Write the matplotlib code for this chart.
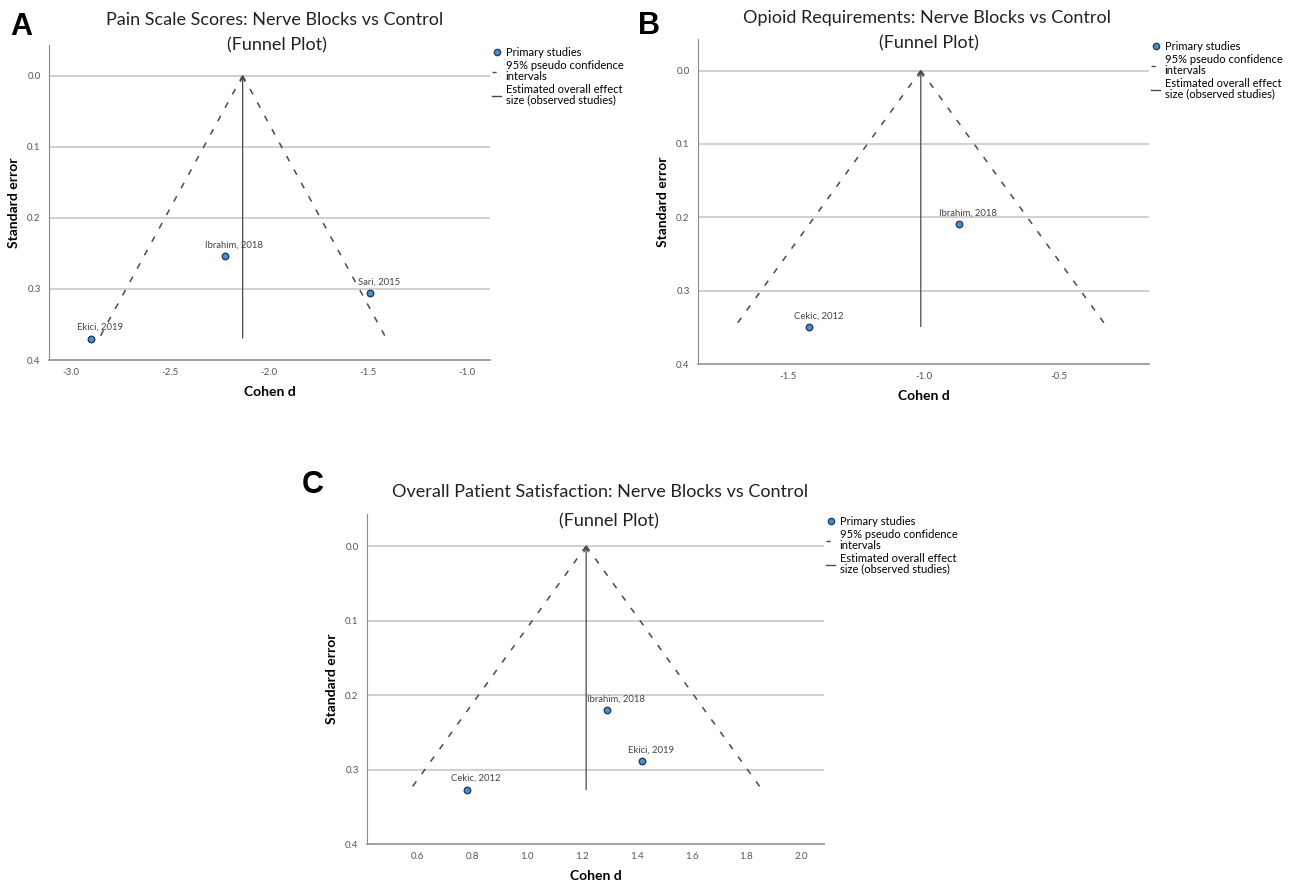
import matplotlib
matplotlib.use("Agg")
import matplotlib.pyplot as plt
from matplotlib.lines import Line2D

plt.rcParams["font.family"] = ["Lato", "DejaVu Sans"]

# --- data ---
pain_studies = ["Ekici, 2019", "Ibrahim, 2018", "Sari, 2015"]
pain_d = [-2.90, -2.22, -1.49]
pain_se = [0.370, 0.254, 0.306]
pain_pooled = -2.133
pain_se_max = 0.369

opioid_studies = ["Cekic, 2012", "Ibrahim, 2018"]
opioid_d = [-1.42, -0.868]
opioid_se = [0.350, 0.2095]
opioid_pooled = -1.01
opioid_se_max = 0.349

satisf_studies = ["Cekic, 2012", "Ibrahim, 2018", "Ekici, 2019"]
satisf_d = [0.78, 1.291, 1.421]
satisf_se = [0.327, 0.220, 0.289]
satisf_pooled = 1.216
satisf_se_max = 0.327

se_ticks = [0.0, 0.1, 0.2, 0.3, 0.4]
pain_xticks = [-3.0, -2.5, -2.0, -1.5, -1.0]
opioid_xticks = [-1.5, -1.0, -0.5]
satisf_xticks = [0.6, 0.8, 1.0, 1.2, 1.4, 1.6, 1.8, 2.0]

W, H = 1292, 883
POINT_FACE = "#4f8fc9"
POINT_EDGE = "#1f3f66"
LINE_COL = "#4a4a4a"
GRID_COL = "#cdcdcd"


def px_box(left, top, right, bottom):
    return [left / W, 1 - bottom / H, (right - left) / W, (bottom - top) / H]


def funnel(ax, studies, d, se, pooled, se_max, xticks, xlim):
    ax.set_ylim(0.4, -0.043)
    ax.set_xlim(*xlim)
    ax.set_yticks(se_ticks)
    ax.set_yticklabels([f"{t:.1f}" for t in se_ticks])
    ax.set_xticks(xticks)
    ax.set_xticklabels([f"{t:.1f}" for t in xticks])
    for t in se_ticks[:-1]:
        ax.axhline(t, color=GRID_COL, lw=1.3, zorder=0)
    for side in ["top", "right"]:
        ax.spines[side].set_visible(False)
    ax.spines["left"].set_color("#8a8a8a")
    ax.spines["bottom"].set_color("#9a9a9a")
    ax.spines["bottom"].set_linewidth(1.3)
    ax.tick_params(length=0, labelsize=7, colors="#555555", pad=6)

    # 95% pseudo confidence limits
    se_line = [0.0, se_max]
    ax.plot([pooled, pooled - 1.96 * se_max], se_line, color=LINE_COL,
            lw=1.1, ls=(0, (4, 6)))
    ax.plot([pooled, pooled + 1.96 * se_max], se_line, color=LINE_COL,
            lw=1.1, ls=(0, (4, 6)))
    # overall effect
    ax.annotate("", xy=(pooled, 0.0), xytext=(pooled, se_max),
                arrowprops=dict(arrowstyle="->", color=LINE_COL, lw=0.9,
                                shrinkA=0, shrinkB=0, mutation_scale=8))

    ax.scatter(d, se, s=22, facecolor=POINT_FACE, edgecolor=POINT_EDGE,
               linewidth=1.0, zorder=3)
    for name, x, y in zip(studies, d, se):
        ax.annotate(name, (x, y), xytext=(9, 11), textcoords="offset pixels",
                    ha="center", va="center", fontsize=6.8, color="#444444")

    ax.set_xlabel("Cohen d", fontsize=10, fontweight="bold", labelpad=6)
    ax.set_ylabel("Standard error", fontsize=10, fontweight="bold", labelpad=5)

    handles = [
        Line2D([], [], marker="o", ls="none", mfc=POINT_FACE, mec=POINT_EDGE,
               ms=4.5),
        Line2D([], [], color=LINE_COL, lw=1.0, ls=(0, (3, 20))),
        Line2D([], [], color=LINE_COL, lw=1.0),
    ]
    labels = ["Primary studies", "95% pseudo confidence\nintervals",
              "Estimated overall effect\nsize (observed studies)"]
    leg = ax.legend(handles, labels, loc="upper left", bbox_to_anchor=(1.0, 1.0),
                    frameon=False, fontsize=8, handlelength=0.8,
                    handletextpad=0.4, labelspacing=0.2, borderaxespad=0.2,
                    borderpad=0.0)
    for txt in leg.get_texts():
        txt.set_linespacing(0.95)


fig = plt.figure(figsize=(W / 100, H / 100), dpi=100)

ax_a = fig.add_axes(px_box(49, 45, 490, 360))
funnel(ax_a, pain_studies, pain_d, pain_se, pain_pooled, pain_se_max,
       pain_xticks, (-3.11, -0.885))

ax_b = fig.add_axes(px_box(698, 39, 1149, 364))
funnel(ax_b, opioid_studies, opioid_d, opioid_se, opioid_pooled,
       opioid_se_max, opioid_xticks, (-1.83, -0.17))

ax_c = fig.add_axes(px_box(367, 514, 824, 844))
funnel(ax_c, satisf_studies, satisf_d, satisf_se, satisf_pooled,
       satisf_se_max, satisf_xticks, (0.417, 2.083))

titles = [
    ("Pain Scale Scores: Nerve Blocks vs Control", 275, 20, 277, 45),
    ("Opioid Requirements: Nerve Blocks vs Control", 927, 18, 929, 43),
    ("Overall Patient Satisfaction: Nerve Blocks vs Control", 600, 492, 609, 521),
]
for text, x1, y1, x2, y2 in titles:
    fig.text(x1 / W, 1 - y1 / H, text, ha="center", va="center", fontsize=13,
             color="#222222")
    fig.text(x2 / W, 1 - y2 / H, "(Funnel Plot)", ha="center", va="center",
             fontsize=13, color="#222222")

for letter, x, y in [("A", 21, 27), ("B", 649, 26), ("C", 313, 485)]:
    fig.text(x / W, 1 - y / H, letter, ha="center", va="center", fontsize=22,
             fontweight="bold", family=["Liberation Sans", "DejaVu Sans"])

fig.savefig("out.png", dpi=100)
